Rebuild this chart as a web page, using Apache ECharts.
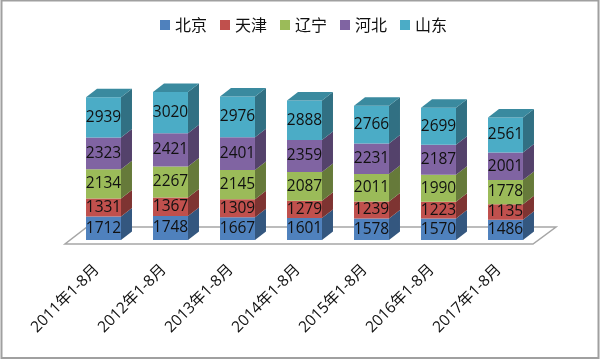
<!DOCTYPE html>
<html><head><meta charset="utf-8">
<style>html,body{margin:0;padding:0;background:#fff}#c{width:600px;height:359px}</style>
<script src="https://cdn.jsdelivr.net/npm/echarts@6/dist/echarts.min.js"></script>
</head><body><div id="c"></div>
<script>
const categories = ['2011年1-8月','2012年1-8月','2013年1-8月','2014年1-8月','2015年1-8月','2016年1-8月','2017年1-8月'];
const beijing  = [1712,1748,1667,1601,1578,1570,1486];
const tianjin  = [1331,1367,1309,1279,1239,1223,1135];
const liaoning = [2134,2267,2145,2087,2011,1990,1778];
const hebei    = [2323,2421,2401,2359,2231,2187,2001];
const shandong = [2939,3020,2976,2888,2766,2699,2561];
const names = ['北京','天津','辽宁','河北','山东'];
const seriesValues = [beijing,tianjin,liaoning,hebei,shandong];
const frontColors = ['#4f81bd','#c0504d','#9bbb59','#8064a2','#4bacc6'];
const sideColors  = ['#34577f','#7e3432','#667a3a','#54426b','#317083'];
const topColor = '#3a8a9f';
const DX = 11, DY = 8.5;
const FONT = '"Open Sans","Noto Sans CJK SC",sans-serif';

const chart = echarts.init(document.getElementById('c'), null, {renderer:'canvas'});
const totals = categories.map(()=>0);
const series = [{
  type:'custom', name:'floor', silent:true, z:1, clip:false,
  data:[[0]],
  renderItem(params, api){
    const cs = params.coordSys;
    const l = cs.x - 5.5, r = cs.x + cs.width - 6.5;
    const b = cs.y + cs.height + 4, t = b - 17;
    return {type:'polygon',
      shape:{points:[[l,b],[r,b],[r+23,t],[l+22,t]]},
      style:{fill:'#fff',stroke:'#a6a6a6',lineWidth:1.5}};
  }
}];
seriesValues.forEach((vals,si)=>{
  const data = vals.map((v,i)=>{
    const row=[i,totals[i],totals[i]+v,v];
    totals[i]+=v;
    return row;
  });
  series.push({
    type:'custom', name:names[si], z:2+si, clip:false, silent:true,
    itemStyle:{color:frontColors[si]},
    encode:{x:0,y:[1,2]},
    data,
    renderItem(params, api){
      const i = api.value(0);
      const p0 = api.coord([i,api.value(1)]);
      const p1 = api.coord([i,api.value(2)]);
      const w = api.size([1,0])[0]*0.522;
      const x0 = p0[0]-w/2-0.5, x1 = x0+w, yb = p0[1], yt = p1[1];
      const children = [
        {type:'polygon',shape:{points:[[x1,yb],[x1+DX,yb-DY],[x1+DX,yt-DY],[x1,yt]]},style:{fill:sideColors[si]}},
        {type:'rect',shape:{x:x0,y:yt,width:w,height:yb-yt},style:{fill:frontColors[si]}}
      ];
      if(si===seriesValues.length-1){
        children.push({type:'polygon',shape:{points:[[x0,yt],[x1,yt],[x1+DX,yt-DY],[x0+DX,yt-DY]]},style:{fill:topColor}});
      }
      children.push({type:'text',style:{text:String(api.value(3)),x:(x0+x1)/2,y:(yb+yt)/2,
        align:'center',verticalAlign:'middle',fill:'#111',font:'15.5px '+FONT}});
      return {type:'group',children};
    }
  });
});
chart.setOption({
  animation:false,
  backgroundColor:'#fff',
  grid:{left:70.5,right:60.5,top:76,bottom:119,containLabel:false},
  legend:{data:names.map((n,i)=>({name:n,itemStyle:{color:frontColors[i]}})),
    left:155,top:12,icon:'rect',itemWidth:10,itemHeight:10,itemGap:13,
    textStyle:{fontFamily:'"Noto Sans CJK SC"',fontSize:16,color:'#111',padding:[0,0,0,0]}},
  xAxis:{type:'category',data:categories,axisLine:{show:false},axisTick:{show:false},
    axisLabel:{rotate:45,fontSize:15.5,fontFamily:FONT,color:'#111',margin:20,interval:0,padding:[0,10,0,0]}},
  yAxis:{type:'value',min:0,max:12000,show:false},
  graphic:[{type:'rect',silent:true,z:0,shape:{x:1.5,y:0.5,width:597,height:357.5},
    style:{fill:'none',stroke:'#a0a0a0',lineWidth:2}}],
  series
});
</script></body></html>
